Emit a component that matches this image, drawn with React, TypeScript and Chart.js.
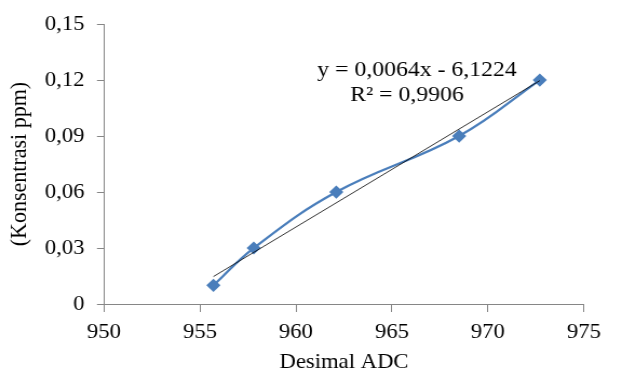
import React, { useEffect, useRef } from "react";
import { Chart, registerables } from "chart.js";

Chart.register(...registerables);

const adcValues = [955.7, 957.8, 962.1, 968.5, 972.7];
const ppmValues = [0.01, 0.03, 0.06, 0.09, 0.12];
const trendX = [955.7, 972.7];
const trendY = [0.0147, 0.1197];
const yTickValues = [0, 0.03, 0.06, 0.09, 0.12, 0.15];
const xTickValues = [950, 955, 960, 965, 970, 975];
const equationLines = ["y = 0,0064x - 6,1224", "R² = 0,9906"];

const FONT = "'Liberation Serif', 'Times New Roman', serif";
const STRETCH = 1.08;
const OUT_W = 622;
const OUT_H = 372;
const W = Math.round(OUT_W / STRETCH);

export default function App() {
  const ref = useRef<HTMLCanvasElement | null>(null);

  useEffect(() => {
    if (!ref.current) return;
    const eqPlugin = {
      id: "eqText",
      afterDatasetsDraw(chart: any) {
        const ctx = chart.ctx;
        ctx.save();
        ctx.fillStyle = "#000";
        ctx.font = `22px ${FONT}`;
        ctx.textAlign = "center";
        ctx.textBaseline = "middle";
        ctx.fillText(equationLines[0], 417 / STRETCH, 70);
        ctx.fillText(equationLines[1], 407 / STRETCH, 95);
        ctx.restore();
      },
    };
    const chart = new Chart(ref.current, {
      type: "scatter",
      data: {
        datasets: [
          {
            label: "data",
            data: adcValues.map((x, i) => ({ x, y: ppmValues[i] })),
            showLine: true,
            tension: 0.4,
            borderColor: "#4A7EBB",
            borderWidth: 2.25,
            pointStyle: "rectRot",
            pointRadius: 5,
            pointBackgroundColor: "#4A7EBB",
            pointBorderColor: "#4A7EBB",
            order: 2,
          },
          {
            label: "trend",
            data: trendX.map((x, i) => ({ x, y: trendY[i] })),
            showLine: true,
            borderColor: "#000",
            borderWidth: 0.8,
            pointRadius: 0,
            order: 1,
          },
        ],
      },
      options: {
        animation: false,
        responsive: false,
        maintainAspectRatio: false,
        layout: { padding: { top: 24, right: W - 584 / STRETCH, left: 0, bottom: 0 } },
        plugins: { legend: { display: false }, tooltip: { enabled: false } },
        scales: {
          x: {
            type: "linear",
            min: 950,
            max: 975,
            afterBuildTicks(scale: any) {
              scale.ticks = xTickValues.map((v) => ({ value: v }));
            },
            afterFit(scale: any) {
              scale.height = 68;
            },
            grid: {
              drawOnChartArea: false,
              drawTicks: true,
              tickLength: 8,
              color: "#868686",
            },
            border: { display: true, color: "#868686", width: 1 },
            ticks: {
              color: "#000",
              font: { family: FONT, size: 21 },
              padding: 8,
              maxRotation: 0,
              callback: (v: any) => String(v),
            },
            title: {
              display: true,
              text: "Desimal ADC",
              color: "#000",
              font: { family: FONT, size: 21 },
              padding: { top: 0, bottom: -2.6 },
            },
          },
          y: {
            type: "linear",
            min: 0,
            max: 0.15,
            afterBuildTicks(scale: any) {
              scale.ticks = yTickValues.map((v) => ({ value: v }));
            },
            afterFit(scale: any) {
              scale.width = 104 / STRETCH;
            },
            grid: {
              drawOnChartArea: false,
              drawTicks: true,
              tickLength: 6.5,
              color: "#868686",
            },
            border: { display: true, color: "#868686", width: 1 },
            ticks: {
              color: "#000",
              font: { family: FONT, size: 21 },
              padding: 11.5,
              callback: (v: any) =>
                Number(v) === 0 ? "0" : Number(v).toFixed(2).replace(".", ","),
            },
            title: {
              display: true,
              text: "(Konsentrasi ppm)",
              color: "#000",
              font: { family: FONT, size: 22 },
              padding: { top: 5.3, bottom: 0 },
            },
          },
        },
      },
      plugins: [eqPlugin],
    });
    return () => chart.destroy();
  }, []);

  return (
    <div style={{ position: "fixed", left: 0, top: 0, width: OUT_W, height: OUT_H, background: "#fff" }}>
      <canvas
        ref={ref}
        width={W}
        height={OUT_H}
        style={{ width: OUT_W, height: OUT_H, display: "block" }}
      />
    </div>
  );
}
